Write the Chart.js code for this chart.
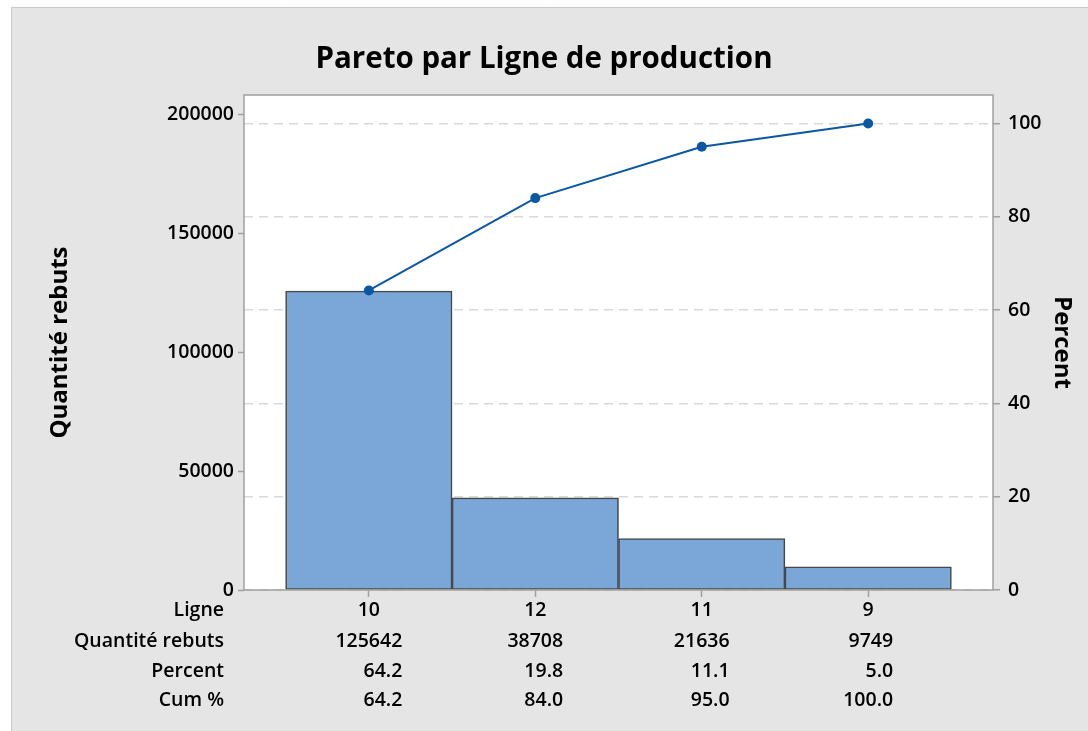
<!DOCTYPE html>
<html>
<head>
<meta charset="utf-8">
<script src="https://cdn.jsdelivr.net/npm/chart.js@4.4.0/dist/chart.umd.min.js"></script>
<style>
html,body{margin:0;padding:0;background:#fff;}
canvas{display:block;}
</style>
</head>
<body>
<canvas id="c" width="1088" height="731"></canvas>
<script>
const categories = ['10', '12', '11', '9'];
const counts = [125642, 38708, 21636, 9749];
const percents = ['64.2', '19.8', '11.1', '5.0'];
const cumPercents = [64.2, 84.0, 95.0, 100.0];
const leftTicks = [0, 50000, 100000, 150000, 200000];
const rightTicks = [0, 20, 40, 60, 80, 100];
const rowLabels = ['Ligne', 'Quantité rebuts', 'Percent', 'Cum %'];
const titleText = 'Pareto par Ligne de production';

const FONT = "'Open Sans', 'Noto Sans', sans-serif";
const TXT = 19.5;
const W = 600;

const bgPlugin = {
  id: 'bg',
  beforeDraw(chart) {
    const ctx = chart.ctx;
    ctx.save();
    ctx.fillStyle = '#ffffff';
    ctx.fillRect(0, 0, chart.width, chart.height);
    ctx.fillStyle = '#e5e5e5';
    ctx.fillRect(11, 7, chart.width - 11, chart.height - 7);
    ctx.strokeStyle = '#c9c9c9';
    ctx.lineWidth = 1;
    ctx.beginPath();
    ctx.moveTo(11.5, chart.height);
    ctx.lineTo(11.5, 7.5);
    ctx.lineTo(chart.width, 7.5);
    ctx.stroke();
    const a = chart.chartArea;
    ctx.fillStyle = '#ffffff';
    ctx.fillRect(a.left, a.top, a.right - a.left, a.bottom - a.top);
    ctx.restore();
  },
  afterDatasetsDraw(chart) {
    const ctx = chart.ctx;
    const a = chart.chartArea;
    ctx.save();
    ctx.strokeStyle = '#a0a0a0';
    ctx.lineWidth = 1.5;
    ctx.strokeRect(a.left, a.top, a.right - a.left, a.bottom - a.top);
    ctx.restore();
  },
  afterDraw(chart) {
    const ctx = chart.ctx;
    const xs = chart.scales.x;
    ctx.save();
    ctx.font = W + ' ' + TXT + 'px ' + FONT;
    ctx.fillStyle = '#000000';
    ctx.textBaseline = 'middle';
    const rowY = [610, 641, 671, 700];
    const labelRight = 224;
    ctx.textAlign = 'right';
    rowLabels.forEach((t, r) => ctx.fillText(t, labelRight, rowY[r]));
    categories.forEach((cat, i) => {
      const x = xs.getPixelForValue(i);
      ctx.textAlign = 'center';
      ctx.fillText(cat, x, rowY[0]);
      const vals = [String(counts[i]), percents[i], cumPercents[i].toFixed(1)];
      const w = Math.max(...vals.map(v => ctx.measureText(v).width));
      ctx.textAlign = 'right';
      vals.forEach((v, r) => ctx.fillText(v, x + w / 2, rowY[r + 1]));
    });
    ctx.restore();
  }
};

new Chart(document.getElementById('c'), {
  data: {
    datasets: [
      {
        type: 'line',
        yAxisID: 'y1',
        order: 0,
        data: cumPercents.map((v, i) => ({x: i, y: v})),
        borderColor: '#0a57a6',
        backgroundColor: '#0a57a6',
        borderWidth: 2,
        pointRadius: 5,
        pointBackgroundColor: '#0a57a6',
        pointBorderWidth: 0,
        tension: 0
      },
      {
        type: 'bar',
        yAxisID: 'y',
        order: 1,
        data: counts.map((v, i) => ({x: i, y: v})),
        backgroundColor: '#7ba7d8',
        borderColor: '#484848',
        borderWidth: 1.6,
        borderSkipped: false,
        barPercentage: 1,
        categoryPercentage: 1
      }
    ]
  },
  options: {
    responsive: false,
    animation: false,
    layout: {padding: 0},
    plugins: {
      legend: {display: false},
      tooltip: {enabled: false},
      title: {
        display: true,
        text: titleText,
        color: '#000000',
        font: {family: FONT, size: 29.5, weight: 'bold', lineHeight: 1.2},
        padding: {top: 42, bottom: 17.6}
      }
    },
    scales: {
      x: {
        type: 'linear',
        offset: false,
        min: -0.75,
        max: 3.75,
        afterBuildTicks(s) { s.ticks = categories.map((c, i) => ({value: i})); },
        afterFit(s) { s.height = 141; },
        ticks: {display: false},
        grid: {offset: false, drawOnChartArea: false, drawTicks: true, tickLength: 7, tickColor: '#a0a0a0', tickWidth: 1.5, color: '#a0a0a0'},
        border: {display: false}
      },
      y: {
        type: 'linear',
        position: 'left',
        min: 0,
        max: 208000,
        afterBuildTicks(s) { s.ticks = leftTicks.map(v => ({value: v})); },
        afterFit(s) { s.width = 244; },
        ticks: {color: '#000000', font: {family: FONT, size: TXT, weight: W}, padding: 4, callback: v => String(v)},
        grid: {drawOnChartArea: false, drawTicks: true, tickLength: 6, tickColor: '#a0a0a0', tickWidth: 1.5},
        border: {display: false},
        title: {
          display: true,
          text: 'Quantité rebuts',
          color: '#000000',
          font: {family: FONT, size: 24, weight: 'bold', lineHeight: 1.2},
          padding: {top: 46, bottom: 0}
        }
      },
      y1: {
        type: 'linear',
        position: 'right',
        min: 0,
        max: 106.1,
        afterBuildTicks(s) { s.ticks = rightTicks.map(v => ({value: v})); },
        afterFit(s) { s.width = 95; },
        ticks: {color: '#000000', font: {family: FONT, size: TXT, weight: W}, padding: 8, callback: v => String(v)},
        grid: {drawOnChartArea: true, drawTicks: true, tickLength: 7, color: '#d9d9d9', lineWidth: 1.5, tickColor: '#a0a0a0', tickWidth: 1.5, tickBorderDash: []},
        border: {display: false, dash: [9, 6]},
        title: {
          display: true,
          text: 'Percent',
          color: '#000000',
          font: {family: FONT, size: 24, weight: 'bold', lineHeight: 1.2},
          padding: {top: 11.6, bottom: 0}
        }
      }
    }
  },
  plugins: [bgPlugin]
});
</script>
</body>
</html>
